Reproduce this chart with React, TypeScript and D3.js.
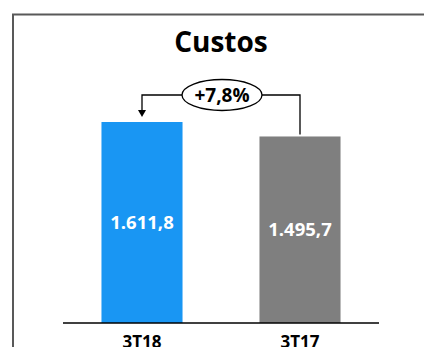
import React from "react";
import * as d3 from "d3";

const categories = ["3T18", "3T17"];
const values = [1611.8, 1495.7];
const valueLabels = ["1.611,8", "1.495,7"];
const barColors = ["#1996F3", "#7F7F7F"];
const changeLabel = "+7,8%";
const title = "Custos";

const W = 424;
const H = 347;
const FONT = "'Open Sans', Lato, sans-serif";

export default function App() {
  const x = d3
    .scaleBand<string>()
    .domain(categories)
    .range([63, 379])
    .paddingInner(0.487)
    .paddingOuter(0.2435);
  const y = d3.scaleLinear().domain([0, 2000]).range([323, 73.6]);

  const bw = x.bandwidth();
  const cx = categories.map((c) => (x(c) as number) + bw / 2);
  const lineY = 95;
  const midX = (cx[0] + cx[1]) / 2 + 1;
  const arrowTip = y(values[0]) - 5;

  return (
    <svg
      width={W}
      height={H}
      style={{ position: "absolute", left: 0, top: 0, background: "#fff" }}
      fontFamily={FONT}
    >
      {/* outer frame: top and left edges */}
      <path d={`M13,${H} V14.5 H${W}`} fill="none" stroke="#595959" strokeWidth={2} />

      <text x={221} y={52} textAnchor="middle" fontSize={28} fontWeight="bold" fill="#000">
        {title}
      </text>

      {categories.map((c, i) => (
        <g key={c}>
          <rect x={x(c)} y={y(values[i])} width={bw} height={y(0) - y(values[i])} fill={barColors[i]} />
          <text
            x={cx[i]}
            y={(y(values[i]) + y(0)) / 2 + 6.5}
            textAnchor="middle"
            fontSize={18.5}
            fontWeight="bold"
            fill="#fff"
          >
            {valueLabels[i]}
          </text>
          <text x={cx[i]} y={347.5} textAnchor="middle" fontSize={17} fontWeight="bold" fill="#000">
            {c}
          </text>
        </g>
      ))}

      {/* baseline */}
      <line x1={63} x2={379} y1={y(0)} y2={y(0)} stroke="#000" strokeWidth={1.5} />

      {/* change annotation: from 3T17 bar to 3T18 bar */}
      <path
        d={`M${cx[1]},${y(values[1]) - 2} V${lineY} H${cx[0]} V${arrowTip - 6}`}
        fill="none"
        stroke="#000"
        strokeWidth={1.3}
      />
      <path d={`M${cx[0] - 4},${arrowTip - 7} L${cx[0] + 4},${arrowTip - 7} L${cx[0]},${arrowTip} Z`} fill="#000" />
      <ellipse cx={midX} cy={95} rx={40} ry={15.5} fill="#fff" stroke="#000" strokeWidth={1.3} />
      <text x={midX} y={101.5} textAnchor="middle" fontSize={19} fontWeight="bold" fill="#000">
        {changeLabel}
      </text>
    </svg>
  );
}
